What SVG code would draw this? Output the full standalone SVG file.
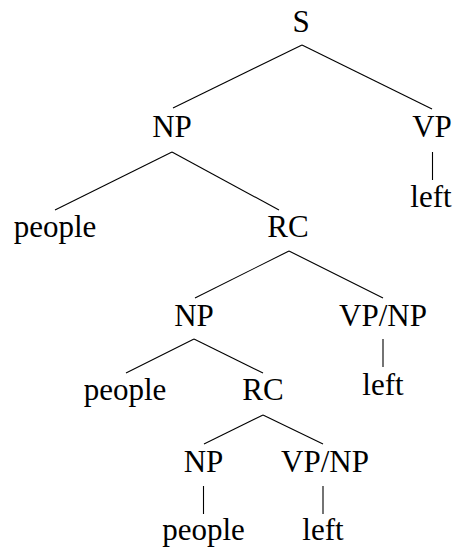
<svg xmlns="http://www.w3.org/2000/svg" width="457" height="550" viewBox="0 0 457 550">
<style>
text{font-family:"Liberation Serif","Times New Roman",serif;font-size:31px;fill:#000;text-anchor:middle}
line{stroke:#000;stroke-width:1.1}
</style>
<rect width="457" height="550" fill="#fff"/>
<g id="connectors">
<line x1="302" y1="45" x2="173" y2="108"/>
<line x1="302" y1="45" x2="432" y2="109"/>
<line x1="432.5" y1="152" x2="432.5" y2="180"/>
<line x1="172" y1="152" x2="55" y2="210"/>
<line x1="172" y1="152" x2="279" y2="210"/>
<line x1="289" y1="251" x2="195" y2="298"/>
<line x1="289" y1="251" x2="383" y2="298"/>
<line x1="383" y1="339" x2="383" y2="367"/>
<line x1="194" y1="339" x2="126" y2="373"/>
<line x1="194" y1="339" x2="263" y2="373"/>
<line x1="263" y1="415" x2="204" y2="444"/>
<line x1="263" y1="415" x2="323" y2="444"/>
<line x1="203.5" y1="486" x2="203.5" y2="514"/>
<line x1="323" y1="486" x2="323" y2="514"/>
</g>
<g id="n-S"><text x="301" y="32">S</text></g>
<g id="n-NP1"><text x="172" y="137">NP</text></g>
<g id="n-VP1"><text x="432" y="137">VP</text></g>
<g id="n-left1"><text x="431" y="207">left</text></g>
<g id="n-people1"><text x="55" y="237">people</text></g>
<g id="n-RC1"><text x="288" y="237">RC</text></g>
<g id="n-NP2"><text x="194" y="326">NP</text></g>
<g id="n-VPNP2"><text x="383" y="326">VP/NP</text></g>
<g id="n-left2"><text x="383" y="395">left</text></g>
<g id="n-people2"><text x="125" y="400">people</text></g>
<g id="n-RC2"><text x="263" y="400">RC</text></g>
<g id="n-NP3"><text x="203.5" y="472">NP</text></g>
<g id="n-VPNP3"><text x="325" y="472">VP/NP</text></g>
<g id="n-people3"><text x="203.5" y="540">people</text></g>
<g id="n-left3"><text x="323" y="540">left</text></g>
</svg>
